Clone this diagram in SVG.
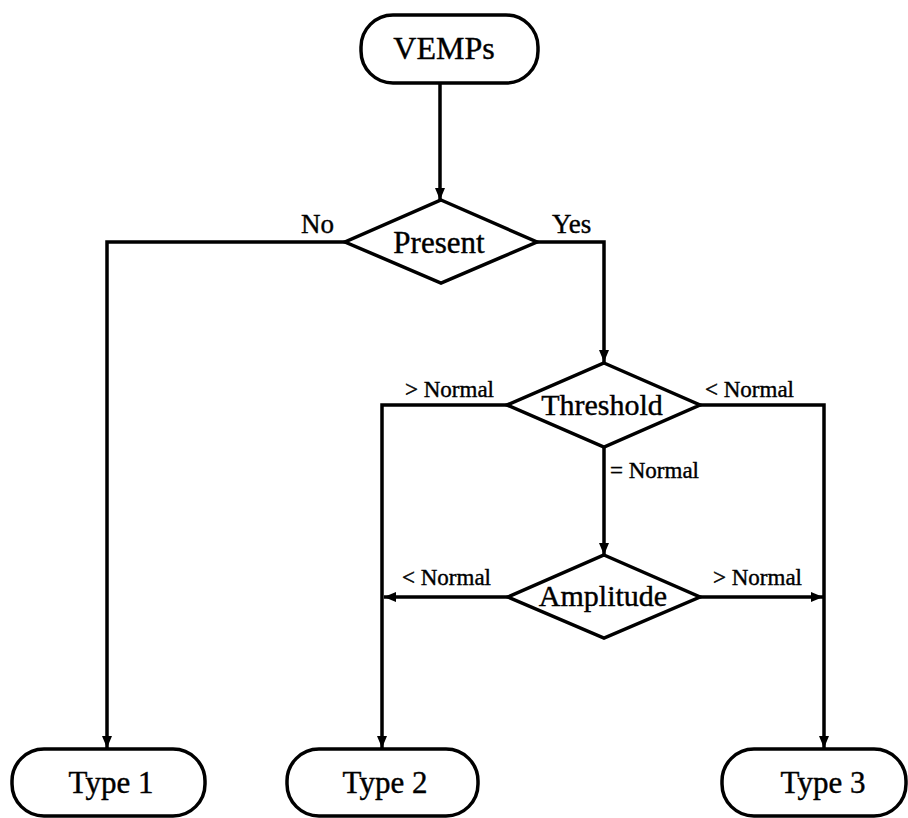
<svg xmlns="http://www.w3.org/2000/svg" width="908" height="818" viewBox="0 0 908 818">
<style>
.n{fill:#fff;stroke:#000;stroke-width:3.5}
.c{fill:none;stroke:#000;stroke-width:3.5}
text{font-family:"Liberation Serif","Times New Roman",serif;fill:#000;stroke:#000;stroke-width:0.4}
.big{font-size:31px;text-anchor:middle}
.lab{font-size:27px}
.sm{font-size:23px}
</style>
<defs>
<marker id="ah" viewBox="0 0 12 10" refX="12" refY="5" markerWidth="12" markerHeight="10" markerUnits="userSpaceOnUse" orient="auto">
<path d="M0,0 L12,5 L0,10 Z" fill="#000"/>
</marker>
</defs>
<g id="connectors">
<line class="c" x1="440" y1="83" x2="440" y2="200" marker-end="url(#ah)"/>
<polyline class="c" points="345,242 107,242 107,748" marker-end="url(#ah)"/>
<polyline class="c" points="537,242 604,242 604,362" marker-end="url(#ah)"/>
<polyline class="c" points="507,405 382,405 382,748" marker-end="url(#ah)"/>
<polyline class="c" points="700,405 824,405 824,748" marker-end="url(#ah)"/>
<line class="c" x1="604" y1="447" x2="604" y2="555" marker-end="url(#ah)"/>
<line class="c" x1="508" y1="597" x2="384" y2="597" marker-end="url(#ah)"/>
<line class="c" x1="700" y1="597" x2="823" y2="597" marker-end="url(#ah)"/>
<text class="lab" x="301" y="233">No</text>
<text class="lab" x="552" y="233">Yes</text>
<text class="sm" x="405" y="397">&gt; Normal</text>
<text class="sm" x="705" y="397">&lt; Normal</text>
<text class="sm" x="610" y="478">= Normal</text>
<text class="sm" x="402" y="585">&lt; Normal</text>
<text class="sm" x="713" y="585">&gt; Normal</text>
</g>
<g id="vemps">
<rect class="n" x="361" y="15" width="177" height="68" rx="32"/>
<text class="big" x="444" y="59" style="font-size:32px">VEMPs</text>
</g>
<g id="present">
<polygon class="n" points="441,200 537,242 441,283 345,242"/>
<text class="big" x="439" y="253">Present</text>
</g>
<g id="threshold">
<polygon class="n" points="604,363 700,405 604,447 507,405"/>
<text class="big" x="602" y="415" style="font-size:30px">Threshold</text>
</g>
<g id="amplitude">
<polygon class="n" points="604,555 700,597 604,638 508,597"/>
<text class="big" x="603" y="606" style="font-size:30px">Amplitude</text>
</g>
<g id="type1">
<rect class="n" x="12" y="749" width="193" height="67" rx="32"/>
<text class="big" x="111" y="793">Type 1</text>
</g>
<g id="type2">
<rect class="n" x="287" y="749" width="191" height="67" rx="32"/>
<text class="big" x="385" y="793">Type 2</text>
</g>
<g id="type3">
<rect class="n" x="722" y="749" width="184" height="67" rx="32"/>
<text class="big" x="823" y="793">Type 3</text>
</g>
</svg>
